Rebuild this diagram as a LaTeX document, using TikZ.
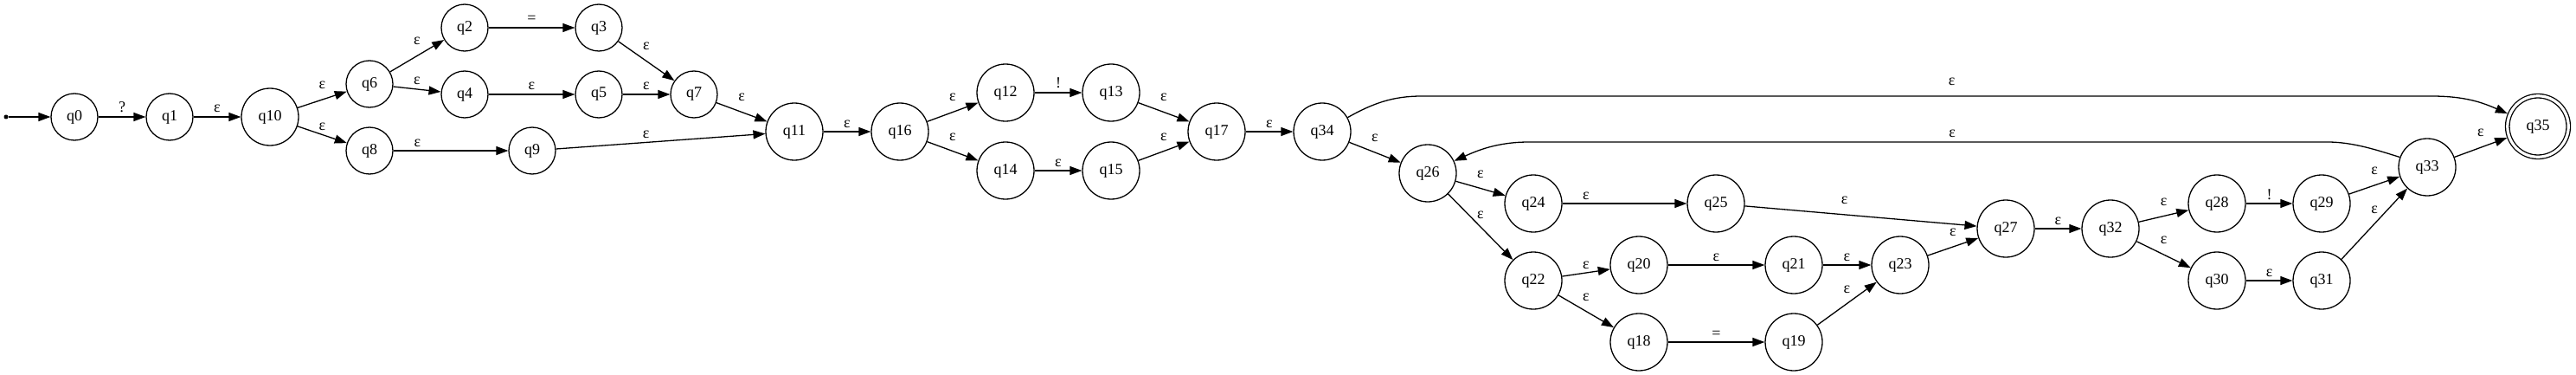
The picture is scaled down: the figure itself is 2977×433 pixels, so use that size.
\documentclass[tikz,border=0pt]{standalone}
\usepackage{fontspec}
\setmainfont{Liberation Serif}
\usetikzlibrary{arrows.meta}

\begin{document}
\begin{tikzpicture}[x=1pt, y=-1pt,
  every node/.style={font=\fontsize{18}{22}\selectfont},
  state/.style={circle, draw, line width=1.3pt, minimum size=54pt, inner sep=0pt},
  bigstate/.style={state, minimum size=66pt},
  accept/.style={bigstate, double, double distance=3.2pt, minimum size=70.5pt, outer sep=2.9pt},
  startdot/.style={circle, fill, inner sep=0pt, minimum size=5pt},
  trans/.style={line width=1.3pt, -{Triangle[length=14pt, width=10pt]}},
  lbl/.style={anchor=base, inner sep=0pt, yshift=5pt},
  dlbl/.style={lbl, yshift=7.5pt}]
	\useasboundingbox (0,0) rectangle (2977,433);
	% Nodes
	\node[startdot] (start) at (7,135) {};
	\node[state] (q0) at (86,135) {q0};
	\node[state] (q1) at (196,135) {q1};
	\node[bigstate] (q10) at (312,135) {q10};
	\node[state] (q6) at (427,97) {q6};
	\node[state] (q8) at (427,174) {q8};
	\node[state] (q2) at (537,32) {q2};
	\node[state] (q3) at (692,32) {q3};
	\node[state] (q4) at (537,109) {q4};
	\node[state] (q5) at (692,109) {q5};
	\node[state] (q7) at (802,109) {q7};
	\node[state] (q9) at (615,174) {q9};
	\node[bigstate] (q11) at (918,152) {q11};
	\node[bigstate] (q16) at (1040,152) {q16};
	\node[bigstate] (q12) at (1162,107) {q12};
	\node[bigstate] (q13) at (1284,107) {q13};
	\node[bigstate] (q14) at (1162,197) {q14};
	\node[bigstate] (q15) at (1284,197) {q15};
	\node[bigstate] (q17) at (1406,152) {q17};
	\node[bigstate] (q34) at (1528,152) {q34};
	\node[bigstate] (q26) at (1650,200) {q26};
	\node[bigstate] (q24) at (1772,235) {q24};
	\node[bigstate] (q22) at (1772,324) {q22};
	\node[bigstate] (q25) at (1983,235) {q25};
	\node[bigstate] (q20) at (1894,306) {q20};
	\node[bigstate] (q21) at (2073,306) {q21};
	\node[bigstate] (q23) at (2196,306) {q23};
	\node[bigstate] (q18) at (1894,395) {q18};
	\node[bigstate] (q19) at (2073,395) {q19};
	\node[bigstate] (q27) at (2318,264) {q27};
	\node[bigstate] (q32) at (2439,264) {q32};
	\node[bigstate] (q28) at (2562,235) {q28};
	\node[bigstate] (q29) at (2683,235) {q29};
	\node[bigstate] (q30) at (2562,324) {q30};
	\node[bigstate] (q31) at (2683,324) {q31};
	\node[bigstate] (q33) at (2805,193) {q33};
	\node[accept] (q35) at (2933,146) {q35};
	% Transitions
	\draw[trans] (start) -- (q0);
	\draw[trans] (q0) -- (q1) node[midway, lbl] {?};
	\draw[trans] (q1) -- (q10) node[midway, lbl] {ε};
	\draw[trans] (q10) -- (q6) node[midway, dlbl] {ε};
	\draw[trans] (q10) -- (q8) node[midway, lbl] {ε};
	\draw[trans] (q6) -- (q2) node[midway, dlbl] {ε};
	\draw[trans] (q6) -- (q4) node[midway, lbl] {ε};
	\draw[trans] (q8) -- (q9) node[pos=0.21, lbl] {ε};
	\draw[trans] (q2) -- (q3) node[midway, lbl] {=};
	\draw[trans] (q4) -- (q5) node[midway, lbl] {ε};
	\draw[trans] (q3) -- (q7) node[midway, dlbl] {ε};
	\draw[trans] (q5) -- (q7) node[midway, lbl] {ε};
	\draw[trans] (q7) -- (q11) node[midway, dlbl] {ε};
	\draw[trans] (q9) -- (q11) node[pos=0.43, lbl] {ε};
	\draw[trans] (q11) -- (q16) node[midway, lbl] {ε};
	\draw[trans] (q16) -- (q12) node[midway, dlbl] {ε};
	\draw[trans] (q16) -- (q14) node[midway, dlbl] {ε};
	\draw[trans] (q12) -- (q13) node[midway, lbl] {!};
	\draw[trans] (q14) -- (q15) node[midway, lbl] {ε};
	\draw[trans] (q13) -- (q17) node[midway, dlbl] {ε};
	\draw[trans] (q15) -- (q17) node[midway, dlbl] {ε};
	\draw[trans] (q17) -- (q34) node[midway, lbl] {ε};
	\draw[trans] (q34) -- (q26) node[midway, dlbl] {ε};
	\draw[trans] (q26) -- (q24) node[midway, dlbl] {ε};
	\draw[trans] (q26) -- (q22) node[midway, lbl, yshift=5pt] {ε};
	\draw[trans] (q24) -- (q25) node[pos=0.19, lbl] {ε};
	\draw[trans] (q25) -- (q27) node[pos=0.43, dlbl] {ε};
	\draw[trans] (q22) -- (q20) node[midway, lbl] {ε};
	\draw[trans] (q22) -- (q18) node[midway, dlbl] {ε};
	\draw[trans] (q20) -- (q21) node[midway, lbl] {ε};
	\draw[trans] (q18) -- (q19) node[midway, lbl] {=};
	\draw[trans] (q21) -- (q23) node[midway, lbl] {ε};
	\draw[trans] (q19) -- (q23) node[midway, dlbl] {ε};
	\draw[trans] (q23) -- (q27) node[midway, dlbl] {ε};
	\draw[trans] (q27) -- (q32) node[midway, lbl] {ε};
	\draw[trans] (q32) -- (q28) node[midway, dlbl] {ε};
	\draw[trans] (q32) -- (q30) node[midway, dlbl] {ε};
	\draw[trans] (q28) -- (q29) node[midway, lbl] {!};
	\draw[trans] (q30) -- (q31) node[midway, lbl] {ε};
	\draw[trans] (q29) -- (q33) node[midway, dlbl] {ε};
	\draw[trans] (q31) -- (q33) node[midway, dlbl] {ε};
	\draw[trans] (q33) -- (q35) node[midway, dlbl] {ε};
	% Long bypass and loop back
	\draw[trans] (q34.29) .. controls (1587,119) and (1610,111) .. (1643,111)
		-- (2810,111) node[pos=0.525, dlbl] {ε}
		.. controls (2850,111) and (2870,119) .. (q35.157);
	\draw[trans] (q33.160) .. controls (2749,174) and (2720,164) .. (2690,164)
		-- (1767,164) node[pos=0.47, lbl] {ε}
		.. controls (1730,164) and (1707,174) .. (q26.25);
\end{tikzpicture}
\end{document}
